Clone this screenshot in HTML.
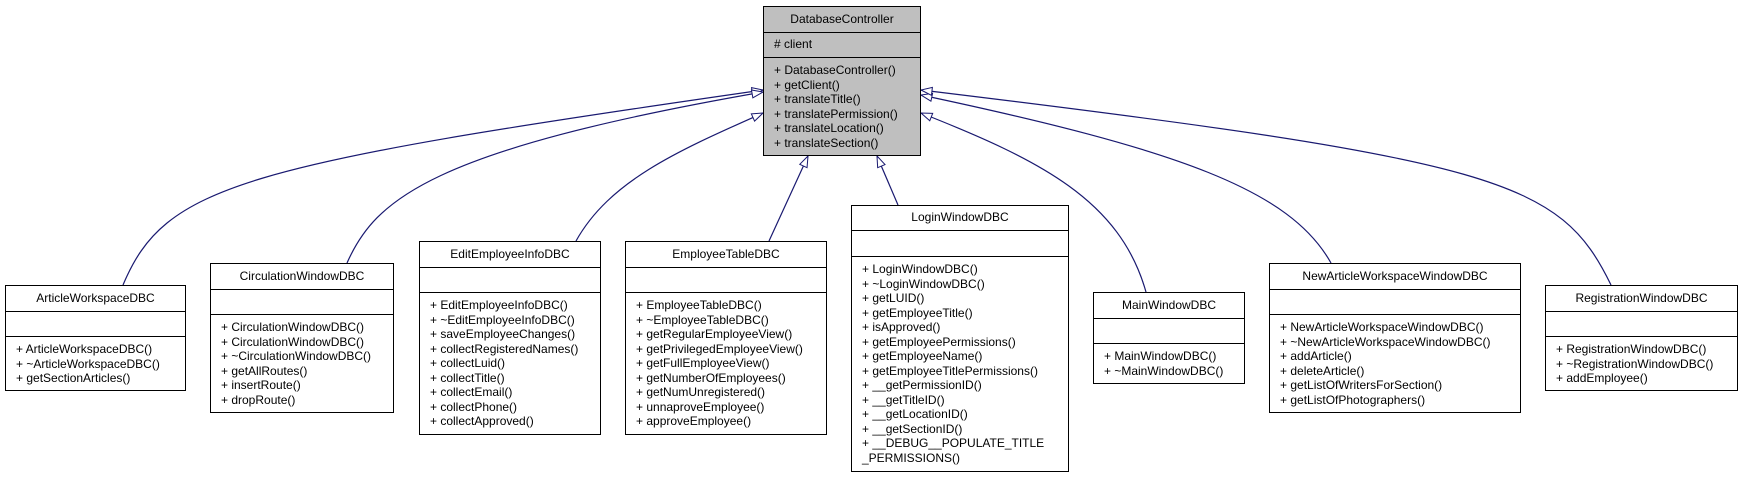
<!DOCTYPE html>
<html><head><meta charset="utf-8"><style>
body{margin:0;width:1739px;height:477px;background:#fff;position:relative;overflow:hidden;font-family:"Liberation Sans",Arial,sans-serif;font-size:12px;color:#000}
.b{position:absolute;border:1px solid #000;background:#fff;box-sizing:border-box}
.t{text-align:center;border-bottom:1px solid #000;box-sizing:border-box;white-space:nowrap}
.a{border-bottom:1px solid #000;box-sizing:border-box;padding-left:10px}
.m{padding:5px 0 0 10px;line-height:14.5px;white-space:nowrap}
svg{position:absolute;left:0;top:0}
</style></head><body>
<svg width="1739" height="477">
<defs><marker id="h" markerWidth="14" markerHeight="12" refX="12" refY="5" orient="auto" markerUnits="userSpaceOnUse"><path d="M1,1 L12,5 L1,9 Z" fill="#fff" stroke="#191970" stroke-width="1"/></marker></defs>
<g fill="none" stroke="#191970" stroke-width="1.2" marker-end="url(#h)">
<path d="M123,285 C165,185 240,165 763,90"/>
<path d="M347,263 C375,200 430,150 763,92"/>
<path d="M576,241 C610,180 680,150 763,113"/>
<path d="M769,241 L808,156"/>
<path d="M898,205 L877,156"/>
<path d="M1146,292 C1120,200 1040,160 921,113"/>
<path d="M1331,263 C1290,190 1180,150 921,95"/>
<path d="M1611,285 C1560,180 1500,160 921,90"/>
</g></svg>

<div class="b" style="left:763px;top:6px;width:158px;height:150px;background:#bfbfbf">
<div class="t" style="height:26px;line-height:24px">DatabaseController</div>
<div class="a" style="height:25px;line-height:23px"># client</div>
<div class="m">+ DatabaseController()<br>+ getClient()<br>+ translateTitle()<br>+ translatePermission()<br>+ translateLocation()<br>+ translateSection()</div></div>

<div class="b" style="left:5px;top:285px;width:181px;height:106px">
<div class="t" style="height:26px;line-height:24px">ArticleWorkspaceDBC</div>
<div class="a" style="height:25px"></div>
<div class="m">+ ArticleWorkspaceDBC()<br>+ ~ArticleWorkspaceDBC()<br>+ getSectionArticles()</div></div>

<div class="b" style="left:210px;top:263px;width:184px;height:150px">
<div class="t" style="height:26px;line-height:24px">CirculationWindowDBC</div>
<div class="a" style="height:25px"></div>
<div class="m">+ CirculationWindowDBC()<br>+ CirculationWindowDBC()<br>+ ~CirculationWindowDBC()<br>+ getAllRoutes()<br>+ insertRoute()<br>+ dropRoute()</div></div>

<div class="b" style="left:419px;top:241px;width:182px;height:194px">
<div class="t" style="height:26px;line-height:24px">EditEmployeeInfoDBC</div>
<div class="a" style="height:25px"></div>
<div class="m">+ EditEmployeeInfoDBC()<br>+ ~EditEmployeeInfoDBC()<br>+ saveEmployeeChanges()<br>+ collectRegisteredNames()<br>+ collectLuid()<br>+ collectTitle()<br>+ collectEmail()<br>+ collectPhone()<br>+ collectApproved()</div></div>

<div class="b" style="left:625px;top:241px;width:202px;height:194px">
<div class="t" style="height:26px;line-height:24px">EmployeeTableDBC</div>
<div class="a" style="height:25px"></div>
<div class="m">+ EmployeeTableDBC()<br>+ ~EmployeeTableDBC()<br>+ getRegularEmployeeView()<br>+ getPrivilegedEmployeeView()<br>+ getFullEmployeeView()<br>+ getNumberOfEmployees()<br>+ getNumUnregistered()<br>+ unnaproveEmployee()<br>+ approveEmployee()</div></div>

<div class="b" style="left:851px;top:205px;width:218px;height:267px">
<div class="t" style="height:25px;line-height:23px">LoginWindowDBC</div>
<div class="a" style="height:26px"></div>
<div class="m">+ LoginWindowDBC()<br>+ ~LoginWindowDBC()<br>+ getLUID()<br>+ getEmployeeTitle()<br>+ isApproved()<br>+ getEmployeePermissions()<br>+ getEmployeeName()<br>+ getEmployeeTitlePermissions()<br>+ __getPermissionID()<br>+ __getTitleID()<br>+ __getLocationID()<br>+ __getSectionID()<br>+ __DEBUG__POPULATE_TITLE<br>_PERMISSIONS()</div></div>

<div class="b" style="left:1093px;top:292px;width:152px;height:92px">
<div class="t" style="height:26px;line-height:24px">MainWindowDBC</div>
<div class="a" style="height:25px"></div>
<div class="m">+ MainWindowDBC()<br>+ ~MainWindowDBC()</div></div>

<div class="b" style="left:1269px;top:263px;width:252px;height:150px">
<div class="t" style="height:26px;line-height:24px">NewArticleWorkspaceWindowDBC</div>
<div class="a" style="height:25px"></div>
<div class="m">+ NewArticleWorkspaceWindowDBC()<br>+ ~NewArticleWorkspaceWindowDBC()<br>+ addArticle()<br>+ deleteArticle()<br>+ getListOfWritersForSection()<br>+ getListOfPhotographers()</div></div>

<div class="b" style="left:1545px;top:285px;width:193px;height:106px">
<div class="t" style="height:26px;line-height:24px">RegistrationWindowDBC</div>
<div class="a" style="height:25px"></div>
<div class="m">+ RegistrationWindowDBC()<br>+ ~RegistrationWindowDBC()<br>+ addEmployee()</div></div>
</body></html>
